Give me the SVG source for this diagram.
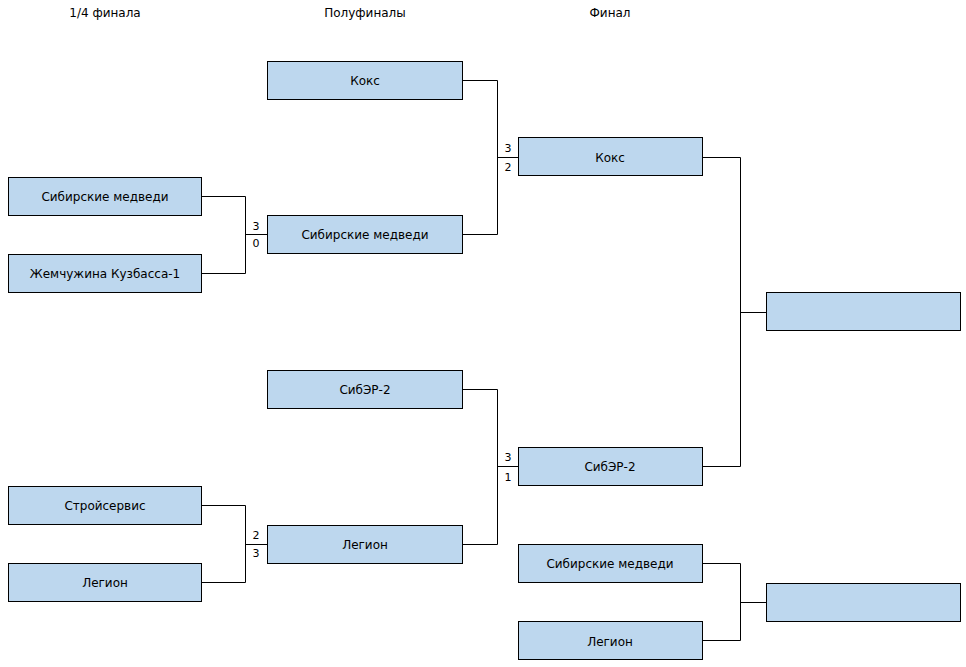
<svg xmlns="http://www.w3.org/2000/svg" width="966" height="667" viewBox="0 0 966 667">
<style>
.box{fill:#BDD7EE;stroke:#000;stroke-width:1}
.t{font-family:"DejaVu Sans",Verdana,sans-serif;font-size:12px;fill:#000;text-anchor:middle;dominant-baseline:central}
.s{font-family:"DejaVu Sans",Verdana,sans-serif;font-size:11px;fill:#000;text-anchor:middle;dominant-baseline:central}
.c{fill:none;stroke:#000;stroke-width:1}
</style>
<rect width="966" height="667" fill="#fff"/>
<text class="t" x="105" y="13">1/4 финала</text>
<text class="t" x="365" y="13">Полуфиналы</text>
<text class="t" x="610" y="13">Финал</text>
<g id="connectors">
<path class="c" d="M201.5 196.5 H245.5 V273.5 H201.5 M245.5 234.5 H267.5"/>
<path class="c" d="M462.5 80.5 H497.5 V234.5 H462.5 M497.5 157.5 H518.5"/>
<path class="c" d="M702.5 157.5 H740.5 V466.5 H702.5 M740.5 312.5 H766.5"/>
<path class="c" d="M201.5 505.5 H245.5 V582.5 H201.5 M245.5 544.5 H267.5"/>
<path class="c" d="M462.5 389.5 H497.5 V544.5 H462.5 M497.5 466.5 H518.5"/>
<path class="c" d="M702.5 563.5 H740.5 V640.5 H702.5 M740.5 602.5 H766.5"/>
<text class="s" x="256" y="226">3</text>
<text class="s" x="256" y="243">0</text>
<text class="s" x="508" y="148">3</text>
<text class="s" x="508" y="167">2</text>
<text class="s" x="256" y="535">2</text>
<text class="s" x="256" y="553">3</text>
<text class="s" x="508" y="457">3</text>
<text class="s" x="508" y="477">1</text>
</g>
<g id="q1"><rect class="box" x="8.5" y="177.5" width="193" height="38"/><text class="t" x="105" y="197">Сибирские медведи</text></g>
<g id="q2"><rect class="box" x="8.5" y="254.5" width="193" height="38"/><text class="t" x="105" y="274">Жемчужина Кузбасса-1</text></g>
<g id="q3"><rect class="box" x="8.5" y="486.5" width="193" height="38"/><text class="t" x="105" y="506">Стройсервис</text></g>
<g id="q4"><rect class="box" x="8.5" y="563.5" width="193" height="38"/><text class="t" x="105" y="583">Легион</text></g>
<g id="s1"><rect class="box" x="267.5" y="61.5" width="195" height="38"/><text class="t" x="365" y="81">Кокс</text></g>
<g id="s2"><rect class="box" x="267.5" y="215.5" width="195" height="38"/><text class="t" x="365" y="235">Сибирские медведи</text></g>
<g id="s3"><rect class="box" x="267.5" y="370.5" width="195" height="38"/><text class="t" x="365" y="390">СибЭР-2</text></g>
<g id="s4"><rect class="box" x="267.5" y="525.5" width="195" height="38"/><text class="t" x="365" y="545">Легион</text></g>
<g id="f1"><rect class="box" x="518.5" y="137.5" width="184" height="38"/><text class="t" x="610" y="158">Кокс</text></g>
<g id="f2"><rect class="box" x="518.5" y="447.5" width="184" height="38"/><text class="t" x="610" y="467">СибЭР-2</text></g>
<g id="b1"><rect class="box" x="518.5" y="544.5" width="184" height="38"/><text class="t" x="610" y="564">Сибирские медведи</text></g>
<g id="b2"><rect class="box" x="518.5" y="621.5" width="184" height="38"/><text class="t" x="610" y="642">Легион</text></g>
<g id="w1"><rect class="box" x="766.5" y="292.5" width="194" height="38"/></g>
<g id="w2"><rect class="box" x="766.5" y="583.5" width="194" height="38"/></g>
</svg>
